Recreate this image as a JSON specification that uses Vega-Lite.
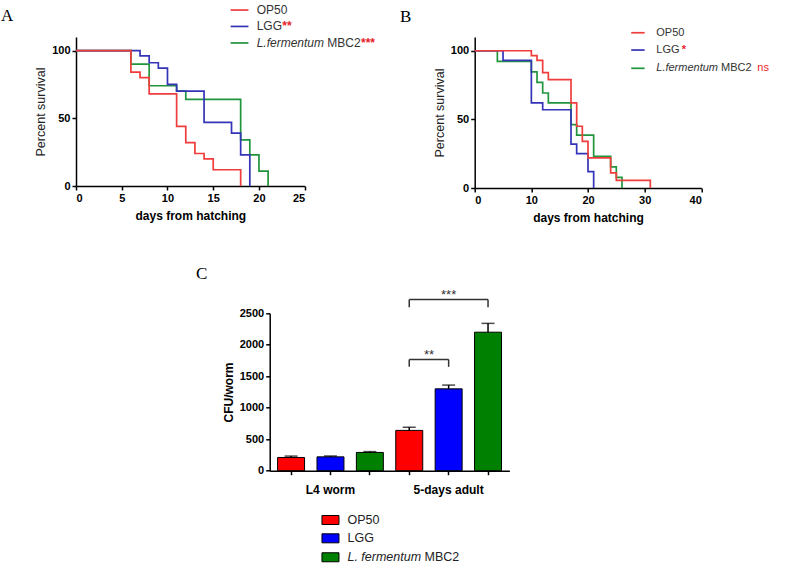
{
  "$schema": "https://vega.github.io/schema/vega-lite/v6.json",
  "background": "white",
  "padding": {"left": 0, "top": 4, "right": 0, "bottom": 0},
  "columns": 2,
  "bounds": "flush",
  "spacing": {"row": 125.3, "column": 169.7},
  "datasets": {
    "survA": [
      {"group": "L.fermentum MBC2", "day": 0, "pct": 100},
      {"group": "L.fermentum MBC2", "day": 6, "pct": 90},
      {"group": "L.fermentum MBC2", "day": 8, "pct": 74},
      {"group": "L.fermentum MBC2", "day": 11, "pct": 70},
      {"group": "L.fermentum MBC2", "day": 12, "pct": 64},
      {"group": "L.fermentum MBC2", "day": 18, "pct": 34},
      {"group": "L.fermentum MBC2", "day": 19, "pct": 23},
      {"group": "L.fermentum MBC2", "day": 20, "pct": 11},
      {"group": "L.fermentum MBC2", "day": 21, "pct": 0},
      {"group": "LGG", "day": 0, "pct": 100},
      {"group": "LGG", "day": 7, "pct": 96},
      {"group": "LGG", "day": 8, "pct": 91},
      {"group": "LGG", "day": 9, "pct": 87},
      {"group": "LGG", "day": 10, "pct": 75},
      {"group": "LGG", "day": 11, "pct": 70},
      {"group": "LGG", "day": 14, "pct": 47},
      {"group": "LGG", "day": 17, "pct": 39},
      {"group": "LGG", "day": 18, "pct": 23},
      {"group": "LGG", "day": 19, "pct": 0},
      {"group": "OP50", "day": 0, "pct": 100},
      {"group": "OP50", "day": 6, "pct": 84},
      {"group": "OP50", "day": 7, "pct": 80},
      {"group": "OP50", "day": 8, "pct": 68},
      {"group": "OP50", "day": 11, "pct": 44},
      {"group": "OP50", "day": 12, "pct": 32},
      {"group": "OP50", "day": 13, "pct": 24},
      {"group": "OP50", "day": 14, "pct": 20},
      {"group": "OP50", "day": 15, "pct": 12},
      {"group": "OP50", "day": 18, "pct": 0}
    ],
    "survB": [
      {"group": "L.fermentum MBC2", "day": 0, "pct": 100},
      {"group": "L.fermentum MBC2", "day": 4, "pct": 92.3},
      {"group": "L.fermentum MBC2", "day": 10, "pct": 84.6},
      {"group": "L.fermentum MBC2", "day": 11, "pct": 76.9},
      {"group": "L.fermentum MBC2", "day": 12, "pct": 69.2},
      {"group": "L.fermentum MBC2", "day": 13, "pct": 62},
      {"group": "L.fermentum MBC2", "day": 17, "pct": 46.2},
      {"group": "L.fermentum MBC2", "day": 18, "pct": 38.5},
      {"group": "L.fermentum MBC2", "day": 21, "pct": 23.1},
      {"group": "L.fermentum MBC2", "day": 24, "pct": 15.4},
      {"group": "L.fermentum MBC2", "day": 25, "pct": 7.7},
      {"group": "L.fermentum MBC2", "day": 26, "pct": 0},
      {"group": "LGG", "day": 0, "pct": 100},
      {"group": "LGG", "day": 5, "pct": 93},
      {"group": "LGG", "day": 10, "pct": 62},
      {"group": "LGG", "day": 12, "pct": 57},
      {"group": "LGG", "day": 17, "pct": 32},
      {"group": "LGG", "day": 18, "pct": 25},
      {"group": "LGG", "day": 20, "pct": 12},
      {"group": "LGG", "day": 21, "pct": 0},
      {"group": "OP50", "day": 0, "pct": 100},
      {"group": "OP50", "day": 10, "pct": 96.5},
      {"group": "OP50", "day": 11, "pct": 93},
      {"group": "OP50", "day": 12, "pct": 84},
      {"group": "OP50", "day": 13, "pct": 79},
      {"group": "OP50", "day": 17, "pct": 62},
      {"group": "OP50", "day": 18, "pct": 45},
      {"group": "OP50", "day": 19, "pct": 34},
      {"group": "OP50", "day": 20, "pct": 22},
      {"group": "OP50", "day": 24, "pct": 11},
      {"group": "OP50", "day": 25, "pct": 5.5},
      {"group": "OP50", "day": 31, "pct": 0}
    ],
    "cfu": [
      {"bar": "L4 worm|OP50", "stage": "L4 worm", "strain": "OP50", "cfu": 210, "upper": 232},
      {"bar": "L4 worm|LGG", "stage": "L4 worm", "strain": "LGG", "cfu": 220, "upper": 232},
      {"bar": "L4 worm|L. fermentum MBC2", "stage": "L4 worm", "strain": "L. fermentum MBC2", "cfu": 290, "upper": 303},
      {"bar": "5-days adult|OP50", "stage": "5-days adult", "strain": "OP50", "cfu": 640, "upper": 690},
      {"bar": "5-days adult|LGG", "stage": "5-days adult", "strain": "LGG", "cfu": 1300, "upper": 1360},
      {"bar": "5-days adult|L. fermentum MBC2", "stage": "5-days adult", "strain": "L. fermentum MBC2", "cfu": 2200, "upper": 2340}
    ]
  },
  "concat": [
    {
      "width": 228.7,
      "height": 149,
      "layer": [
        {
          "data": {"name": "survA"},
          "mark": {"type": "line", "interpolate": "step-after", "strokeWidth": 1.7},
          "encoding": {
            "x": {"field": "day", "type": "quantitative", "scale": {"domain": [0, 25], "nice": false},
                  "axis": {"values": [0, 5, 10, 15, 20, 25], "labelOverlap": false, "title": "days from hatching", "titleFontSize": 12, "titleFontWeight": "bold", "titlePadding": 7}},
            "y": {"field": "pct", "type": "quantitative", "scale": {"domain": [0, 110], "nice": false},
                  "axis": {"values": [0, 50, 100], "labelOverlap": false, "title": "Percent survival", "titleFontSize": 12.5, "titleFontWeight": "normal", "titleColor": "#222222", "titlePadding": 4}},
            "color": {"field": "group", "type": "nominal",
                      "scale": {"domain": ["OP50", "LGG", "L.fermentum MBC2"], "range": ["#f03c3c", "#3434b8", "#22943c"]},
                      "legend": null}
          }
        },
        {"data": {"values": [{}]}, "mark": {"type": "rule", "color": "#f03c3c", "strokeWidth": 1.7},
         "encoding": {"x": {"datum": 16.9}, "x2": {"datum": 18.85}, "y": {"datum": 129.9}}},
        {"data": {"values": [{}]}, "mark": {"type": "rule", "color": "#3434b8", "strokeWidth": 1.7},
         "encoding": {"x": {"datum": 16.9}, "x2": {"datum": 18.85}, "y": {"datum": 117.8}}},
        {"data": {"values": [{}]}, "mark": {"type": "rule", "color": "#22943c", "strokeWidth": 1.7},
         "encoding": {"x": {"datum": 16.9}, "x2": {"datum": 18.85}, "y": {"datum": 105.6}}},
        {"data": {"values": [{}]}, "mark": {"type": "text", "text": "OP50", "align": "left", "baseline": "middle", "fontSize": 12, "color": "#333333"},
         "encoding": {"x": {"datum": 19.75}, "y": {"datum": 129.9}}},
        {"data": {"values": [{}]}, "mark": {"type": "text", "text": "LGG", "align": "left", "baseline": "middle", "fontSize": 12, "color": "#333333"},
         "encoding": {"x": {"datum": 19.75}, "y": {"datum": 117.8}}},
        {"data": {"values": [{}]}, "mark": {"type": "text", "text": "**", "align": "left", "baseline": "middle", "fontSize": 12, "fontWeight": "bold", "color": "#e8242a", "dx": 25.6},
         "encoding": {"x": {"datum": 19.75}, "y": {"datum": 117.8}}},
        {"data": {"values": [{}]}, "mark": {"type": "text", "text": "L.fermentum", "align": "left", "baseline": "middle", "fontSize": 12, "fontStyle": "italic", "color": "#333333"},
         "encoding": {"x": {"datum": 19.75}, "y": {"datum": 105.6}}},
        {"data": {"values": [{}]}, "mark": {"type": "text", "text": "MBC2", "align": "left", "baseline": "middle", "fontSize": 12, "color": "#333333", "dx": 70.7},
         "encoding": {"x": {"datum": 19.75}, "y": {"datum": 105.6}}},
        {"data": {"values": [{}]}, "mark": {"type": "text", "text": "***", "align": "left", "baseline": "middle", "fontSize": 12, "fontWeight": "bold", "color": "#e8242a", "dx": 104.3},
         "encoding": {"x": {"datum": 19.75}, "y": {"datum": 105.6}}},
        {"data": {"values": [{}]}, "mark": {"type": "text", "text": "A", "align": "left", "baseline": "alphabetic", "font": "Liberation Serif", "fontSize": 17, "color": "black"},
         "encoding": {"x": {"datum": -8.2}, "y": {"datum": 122.0}}}
      ]
    },
    {
      "width": 226.6,
      "height": 151,
      "layer": [
        {
          "data": {"name": "survB"},
          "mark": {"type": "line", "interpolate": "step-after", "strokeWidth": 1.7},
          "encoding": {
            "x": {"field": "day", "type": "quantitative", "scale": {"domain": [0, 40], "nice": false},
                  "axis": {"values": [0, 10, 20, 30, 40], "labelOverlap": false, "title": "days from hatching", "titleFontSize": 12, "titleFontWeight": "bold", "titlePadding": 7}},
            "y": {"field": "pct", "type": "quantitative", "scale": {"domain": [0, 110], "nice": false},
                  "axis": {"values": [0, 50, 100], "labelOverlap": false, "title": "Percent survival", "titleFontSize": 12.5, "titleFontWeight": "normal", "titleColor": "#222222", "titlePadding": 4}},
            "color": {"field": "group", "type": "nominal",
                      "scale": {"domain": ["OP50", "LGG", "L.fermentum MBC2"], "range": ["#f03c3c", "#3434b8", "#22943c"]},
                      "legend": null}
          }
        },
        {"data": {"values": [{}]}, "mark": {"type": "rule", "color": "#f03c3c", "strokeWidth": 1.7},
         "encoding": {"x": {"datum": 27.63}, "x2": {"datum": 30.0}, "y": {"datum": 113.1}}},
        {"data": {"values": [{}]}, "mark": {"type": "rule", "color": "#3434b8", "strokeWidth": 1.7},
         "encoding": {"x": {"datum": 27.63}, "x2": {"datum": 30.0}, "y": {"datum": 100.5}}},
        {"data": {"values": [{}]}, "mark": {"type": "rule", "color": "#22943c", "strokeWidth": 1.7},
         "encoding": {"x": {"datum": 27.63}, "x2": {"datum": 30.0}, "y": {"datum": 87.2}}},
        {"data": {"values": [{}]}, "mark": {"type": "text", "text": "OP50", "align": "left", "baseline": "middle", "fontSize": 11, "color": "#333333"},
         "encoding": {"x": {"datum": 32.05}, "y": {"datum": 113.1}}},
        {"data": {"values": [{}]}, "mark": {"type": "text", "text": "LGG", "align": "left", "baseline": "middle", "fontSize": 11, "color": "#333333"},
         "encoding": {"x": {"datum": 32.05}, "y": {"datum": 100.5}}},
        {"data": {"values": [{}]}, "mark": {"type": "text", "text": "*", "align": "left", "baseline": "middle", "fontSize": 11, "fontWeight": "bold", "color": "#e8242a", "dx": 25.5},
         "encoding": {"x": {"datum": 32.05}, "y": {"datum": 100.5}}},
        {"data": {"values": [{}]}, "mark": {"type": "text", "text": "L.fermentum", "align": "left", "baseline": "middle", "fontSize": 11, "fontStyle": "italic", "color": "#333333"},
         "encoding": {"x": {"datum": 32.05}, "y": {"datum": 87.2}}},
        {"data": {"values": [{}]}, "mark": {"type": "text", "text": "MBC2", "align": "left", "baseline": "middle", "fontSize": 11, "color": "#333333", "dx": 64.8},
         "encoding": {"x": {"datum": 32.05}, "y": {"datum": 87.2}}},
        {"data": {"values": [{}]}, "mark": {"type": "text", "text": "ns", "align": "left", "baseline": "middle", "fontSize": 11, "color": "#e8242a", "dx": 101},
         "encoding": {"x": {"datum": 32.05}, "y": {"datum": 87.2}}},
        {"data": {"values": [{}]}, "mark": {"type": "text", "text": "B", "align": "left", "baseline": "alphabetic", "font": "Liberation Serif", "fontSize": 17, "color": "black"},
         "encoding": {"x": {"datum": -13.2}, "y": {"datum": 121.1}}}
      ]
    },
    {
      "width": 228.7,
      "height": 157.4,
      "layer": [
        {
          "data": {"name": "cfu"},
          "mark": {"type": "bar", "stroke": "black", "strokeWidth": 1},
          "encoding": {
            "x": {"field": "bar", "type": "nominal", "sort": null,
                  "scale": {"domain": ["L4 worm|OP50", "L4 worm|LGG", "L4 worm|L. fermentum MBC2", "5-days adult|OP50", "5-days adult|LGG", "5-days adult|L. fermentum MBC2"],
                            "range": [193.7, 433.4], "paddingInner": 0.315, "paddingOuter": 0.2},
                  "axis": {"title": null, "labelAngle": 0, "labelFontSize": 12, "labelPadding": 10, "labelOverlap": false,
                           "labelExpr": "datum.value == 'L4 worm|LGG' ? 'L4 worm' : (datum.value == '5-days adult|LGG' ? '5-days adult' : '')"}},
            "y": {"field": "cfu", "type": "quantitative", "stack": null, "scale": {"domain": [0, 2500], "nice": false},
                  "axis": {"values": [0, 500, 1000, 1500, 2000, 2500], "tickCount": 6, "format": "d", "labelOverlap": false, "offset": -193.7, "title": "CFU/worm", "titleFontSize": 12, "titleFontWeight": "bold", "titlePadding": 4}},
            "fill": {"field": "strain", "type": "nominal",
                     "scale": {"domain": ["OP50", "LGG", "L. fermentum MBC2"], "range": ["#ff0000", "#0000ff", "#008000"]},
                     "legend": null}
          }
        },
        {
          "data": {"name": "cfu"},
          "mark": {"type": "rule", "color": "black", "strokeWidth": 1.5},
          "encoding": {"x": {"field": "bar", "type": "nominal", "sort": null},
                       "y": {"field": "cfu", "type": "quantitative",
                             "axis": {"values": [0, 500, 1000, 1500, 2000, 2500], "tickCount": 6, "format": "d", "labelOverlap": false, "offset": -193.7, "title": "CFU/worm", "titleFontSize": 12, "titleFontWeight": "bold", "titlePadding": 4}},
                       "y2": {"field": "upper"}}
        },
        {
          "data": {"name": "cfu"},
          "mark": {"type": "tick", "color": "black", "thickness": 1.5, "size": 13},
          "encoding": {"x": {"field": "bar", "type": "nominal", "sort": null},
                       "y": {"field": "upper", "type": "quantitative",
                             "axis": {"values": [0, 500, 1000, 1500, 2000, 2500], "tickCount": 6, "format": "d", "labelOverlap": false, "offset": -193.7, "title": "CFU/worm", "titleFontSize": 12, "titleFontWeight": "bold", "titlePadding": 4}}}
        },
        {"data": {"values": [{}]}, "mark": {"type": "rule", "color": "#333333", "strokeWidth": 1.5},
         "encoding": {"x": {"datum": "5-days adult|OP50"}, "x2": {"datum": "5-days adult|LGG"}, "y": {"datum": 1768}}},
        {"data": {"values": [{}]}, "mark": {"type": "rule", "color": "#333333", "strokeWidth": 1.5},
         "encoding": {"x": {"datum": "5-days adult|OP50"}, "y": {"datum": 1650}, "y2": {"datum": 1768}}},
        {"data": {"values": [{}]}, "mark": {"type": "rule", "color": "#333333", "strokeWidth": 1.5},
         "encoding": {"x": {"datum": "5-days adult|LGG"}, "y": {"datum": 1650}, "y2": {"datum": 1768}}},
        {"data": {"values": [{}]}, "mark": {"type": "rule", "color": "#333333", "strokeWidth": 1.5},
         "encoding": {"x": {"datum": "5-days adult|OP50"}, "x2": {"datum": "5-days adult|L. fermentum MBC2"}, "y": {"datum": 2720}}},
        {"data": {"values": [{}]}, "mark": {"type": "rule", "color": "#333333", "strokeWidth": 1.5},
         "encoding": {"x": {"datum": "5-days adult|OP50"}, "y": {"datum": 2595}, "y2": {"datum": 2720}}},
        {"data": {"values": [{}]}, "mark": {"type": "rule", "color": "#333333", "strokeWidth": 1.5},
         "encoding": {"x": {"datum": "5-days adult|L. fermentum MBC2"}, "y": {"datum": 2595}, "y2": {"datum": 2720}}},
        {"data": {"values": [{}]}, "mark": {"type": "text", "text": "**", "align": "center", "baseline": "alphabetic", "fontSize": 13, "color": "#333333", "dx": 19.7},
         "encoding": {"x": {"datum": "5-days adult|OP50"}, "y": {"datum": 1768}}},
        {"data": {"values": [{}]}, "mark": {"type": "text", "text": "***", "align": "center", "baseline": "alphabetic", "fontSize": 13, "color": "#333333"},
         "encoding": {"x": {"datum": "5-days adult|LGG"}, "y": {"datum": 2720}}},
        {"data": {"values": [{}]}, "mark": {"type": "bar", "fill": "#ff0000", "stroke": "black", "strokeWidth": 1, "width": 17},
         "encoding": {"x": {"datum": "L4 worm|LGG"}, "y": {"datum": -711.5}, "y2": {"datum": -854.5}}},
        {"data": {"values": [{}]}, "mark": {"type": "bar", "fill": "#0000ff", "stroke": "black", "strokeWidth": 1, "width": 17},
         "encoding": {"x": {"datum": "L4 worm|LGG"}, "y": {"datum": -1002.5}, "y2": {"datum": -1145.5}}},
        {"data": {"values": [{}]}, "mark": {"type": "bar", "fill": "#008000", "stroke": "black", "strokeWidth": 1, "width": 17},
         "encoding": {"x": {"datum": "L4 worm|LGG"}, "y": {"datum": -1303.5}, "y2": {"datum": -1446.5}}},
        {"data": {"values": [{}]}, "mark": {"type": "text", "text": "OP50", "align": "left", "baseline": "middle", "fontSize": 12.5, "color": "#222222", "dx": 17},
         "encoding": {"x": {"datum": "L4 worm|LGG"}, "y": {"datum": -783}}},
        {"data": {"values": [{}]}, "mark": {"type": "text", "text": "LGG", "align": "left", "baseline": "middle", "fontSize": 12.5, "color": "#222222", "dx": 17},
         "encoding": {"x": {"datum": "L4 worm|LGG"}, "y": {"datum": -1074}}},
        {"data": {"values": [{}]}, "mark": {"type": "text", "text": "L. fermentum", "align": "left", "baseline": "middle", "fontSize": 12.5, "fontStyle": "italic", "color": "#222222", "dx": 17},
         "encoding": {"x": {"datum": "L4 worm|LGG"}, "y": {"datum": -1375}}},
        {"data": {"values": [{}]}, "mark": {"type": "text", "text": "MBC2", "align": "left", "baseline": "middle", "fontSize": 12.5, "color": "#222222", "dx": 94.1},
         "encoding": {"x": {"datum": "L4 worm|LGG"}, "y": {"datum": -1375}}},
        {"data": {"values": [{}]}, "mark": {"type": "text", "text": "C", "align": "left", "baseline": "alphabetic", "font": "Liberation Serif", "fontSize": 17, "color": "black", "dx": -95},
         "encoding": {"x": {"datum": "L4 worm|OP50"}, "y": {"datum": 3037}}}
      ]
    }
  ],
  "config": {
    "view": {"stroke": null},
    "font": "Liberation Sans",
    "axis": {
      "grid": false,
      "domainColor": "black",
      "domainWidth": 1.5,
      "tickColor": "black",
      "tickWidth": 1.5,
      "tickSize": 4,
      "labelFont": "Liberation Sans",
      "labelFontSize": 11,
      "labelFontWeight": "bold",
      "labelColor": "black",
      "labelPadding": 2,
      "titleFont": "Liberation Sans",
      "titleColor": "black"
    }
  }
}
